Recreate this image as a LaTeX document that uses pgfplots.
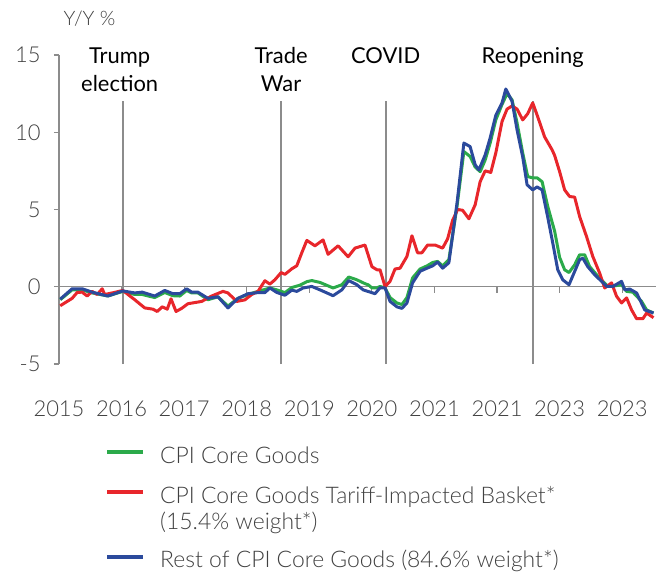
\documentclass[border=0pt]{standalone}
\usepackage{pgfplots}
\pgfplotsset{compat=1.18}
\usepackage{fontspec}
\setmainfont{Lato}
\newfontfamily\lightfont{Lato Light}
\definecolor{cgreen}{HTML}{2BAA4A}
\definecolor{cred}{HTML}{E8262B}
\definecolor{cblue}{HTML}{2B4A9C}
\definecolor{lgray}{HTML}{8C8C8C}
\definecolor{tgray}{HTML}{404040}

\pgfplotstableread{
x y
0.02 -1.23
0.21 -0.75
0.29 -0.37
0.37 -0.35
0.45 -0.6
0.53 -0.3
0.61 -0.5
0.69 -0.13
0.73 -0.5
0.85 -0.4
1.02 -0.24
1.21 -0.84
1.37 -1.37
1.50 -1.45
1.57 -1.6
1.65 -1.3
1.73 -1.45
1.79 -0.78
1.87 -1.6
1.96 -1.4
2.06 -1.1
2.28 -0.95
2.44 -0.6
2.62 -0.3
2.70 -0.4
2.84 -0.95
2.97 -0.85
3.08 -0.5
3.18 -0.3
3.29 0.39
3.37 0.17
3.45 0.45
3.55 0.92
3.61 0.8
3.72 1.16
3.80 1.36
3.88 2.2
3.96 3.0
4.09 2.65
4.22 3.03
4.30 2.1
4.46 2.65
4.62 1.94
4.73 2.5
4.89 2.7
5.00 1.3
5.08 1.1
5.13 1.1
5.21 0.02
5.29 0.35
5.37 1.15
5.45 1.2
5.56 1.96
5.64 3.3
5.73 2.2
5.80 2.2
5.89 2.7
6.01 2.7
6.13 2.5
6.21 3.1
6.29 4.3
6.37 5.0
6.45 4.95
6.55 4.4
6.65 5.3
6.73 6.8
6.81 7.5
6.90 7.4
6.98 8.66
7.08 10.7
7.16 11.5
7.24 11.7
7.32 11.5
7.41 10.8
7.49 11.2
7.57 11.9
7.65 11.0
7.76 9.7
7.88 8.86
7.92 8.5
8.00 7.45
8.08 6.27
8.16 5.84
8.24 5.8
8.32 4.54
8.43 3.25
8.53 1.96
8.64 0.88
8.72 -0.08
8.83 0.25
8.91 -0.62
8.99 -1.05
9.07 -0.72
9.15 -1.5
9.23 -2.07
9.33 -2.07
9.39 -1.7
9.50 -2.0
}\redtab

\pgfplotstableread{
x y
0.02 -0.84
0.21 -0.2
0.37 -0.2
0.53 -0.4
0.78 -0.6
1.02 -0.3
1.21 -0.5
1.33 -0.5
1.53 -0.7
1.69 -0.37
1.82 -0.58
1.93 -0.6
2.04 -0.24
2.12 -0.4
2.22 -0.4
2.38 -0.84
2.54 -0.65
2.70 -1.25
2.86 -0.75
3.02 -0.5
3.18 -0.3
3.37 -0.08
3.48 -0.2
3.61 -0.38
3.72 -0.05
3.85 0.1
3.96 0.33
4.04 0.4
4.17 0.28
4.38 -0.08
4.52 0.13
4.63 0.63
4.76 0.45
4.89 0.2
4.94 0.13
5.00 -0.07
5.08 -0.07
5.13 0.02
5.21 -0.07
5.29 -0.7
5.40 -1.05
5.48 -1.15
5.56 -0.7
5.65 0.57
5.77 1.15
5.88 1.35
5.97 1.57
6.05 1.64
6.13 1.35
6.23 1.75
6.36 5.2
6.47 8.75
6.57 8.43
6.65 7.75
6.73 7.45
6.81 8.2
6.89 9.3
6.98 10.8
7.08 11.8
7.16 12.5
7.24 12.1
7.32 10.6
7.41 8.66
7.49 7.13
7.57 7.05
7.64 7.05
7.72 6.8
7.81 5.2
7.92 3.6
8.00 1.9
8.08 1.1
8.15 0.92
8.24 1.42
8.32 2.07
8.40 2.07
8.48 1.3
8.59 0.78
8.69 0.35
8.77 0.02
8.88 0.06
8.99 0.13
9.07 -0.3
9.17 -0.35
9.31 -0.95
9.39 -1.5
9.50 -1.7
}\greentab

\pgfplotstableread{
x y
0.02 -0.8
0.21 -0.13
0.37 -0.13
0.53 -0.35
0.78 -0.6
1.02 -0.27
1.21 -0.4
1.33 -0.35
1.53 -0.6
1.69 -0.24
1.82 -0.45
1.93 -0.45
2.04 -0.13
2.12 -0.35
2.22 -0.35
2.38 -0.75
2.54 -0.65
2.70 -1.37
2.86 -0.75
3.02 -0.45
3.18 -0.38
3.29 -0.38
3.37 -0.08
3.48 -0.37
3.61 -0.55
3.72 -0.22
3.80 -0.3
3.90 -0.08
4.04 0.02
4.17 -0.2
4.38 -0.58
4.52 -0.2
4.63 0.4
4.76 0.13
4.86 -0.2
5.05 -0.45
5.13 -0.07
5.21 -0.07
5.29 -0.95
5.40 -1.3
5.48 -1.4
5.56 -1.05
5.65 0.25
5.77 1.0
5.88 1.2
5.97 1.35
6.05 1.6
6.13 1.2
6.23 1.55
6.36 5.4
6.47 9.3
6.57 9.07
6.65 7.9
6.71 7.56
6.81 8.53
6.89 9.63
6.98 11.1
7.08 11.9
7.14 12.8
7.24 12.0
7.32 10.15
7.41 8.4
7.48 6.6
7.57 6.27
7.64 6.46
7.72 6.27
7.81 4.5
7.89 2.84
7.97 1.1
8.05 0.45
8.15 0.13
8.24 0.99
8.32 1.75
8.37 1.85
8.45 1.3
8.56 0.78
8.67 0.35
8.75 0.02
8.85 0.02
8.99 0.35
9.04 -0.2
9.12 -0.15
9.23 -0.4
9.36 -1.5
9.50 -1.7
}\bluetab

\begin{document}
\begin{tikzpicture}
\begin{axis}[
  at={(0,0)}, anchor=south west,
  scale only axis, width=597bp, height=309bp,
  xmin=0, xmax=9.54, ymin=-5, ymax=15,
  axis lines=left,
  axis line style={lgray, line width=1.2bp, -},
  x axis line style={draw=none},
  xtick={0,...,9},
  xticklabels={2015,2016,2017,2018,2019,2020,2021,2021,2023,2023},
  x tick style={draw=none},
  ytick={-5,0,5,10,15},
  y tick style={lgray, line width=1.2bp},
  tick align=outside,
  major tick length=5bp,
  tick label style={font=\lightfont\fontsize{22}{26}\selectfont, text=tgray},
  xticklabel style={anchor=base, yshift=-47bp},
  yticklabel style={xshift=-10bp},
  /pgf/number format/assume math mode=true,
  clip=false,
]
% zero line and its ticks
\draw[lgray, line width=1.2bp] (axis cs:0,0) -- (axis cs:9.54,0);
\pgfplotsinvokeforeach{1,2,3,4,5,6,7,8,9}{\draw[lgray, line width=1.2bp] (axis cs:#1,0) -- ([yshift=-6bp]axis cs:#1,0);}
% event lines
\draw[lgray, line width=2bp] (axis cs:1.02,-5) -- (axis cs:1.02,12);
\draw[lgray, line width=2bp] (axis cs:3.55,-5) -- (axis cs:3.55,12);
\draw[lgray, line width=2bp] (axis cs:5.22,-5) -- (axis cs:5.22,12);
\draw[lgray, line width=2bp] (axis cs:7.57,-5) -- (axis cs:7.57,12);
\node[anchor=base, font=\fontsize{22}{26}\selectfont] at (axis cs:0.97,14.45) {Trump};
\node[anchor=base, font=\fontsize{22}{26}\selectfont] at (axis cs:0.97,12.62) {election};
\node[anchor=base, font=\fontsize{22}{26}\selectfont] at (axis cs:3.55,14.45) {Trade};
\node[anchor=base, font=\fontsize{22}{26}\selectfont] at (axis cs:3.55,12.62) {War};
\node[anchor=base, font=\fontsize{22}{26}\selectfont] at (axis cs:5.22,14.45) {COVID};
\node[anchor=base, font=\fontsize{22}{26}\selectfont] at (axis cs:7.57,14.45) {Reopening};
% data
\addplot[cgreen, line width=3bp, line join=round] table[x=x,y=y] {\greentab};
\addplot[cred, line width=3bp, line join=round] table[x=x,y=y] {\redtab};
\addplot[cblue, line width=3bp, line join=round] table[x=x,y=y] {\bluetab};
\end{axis}
% y unit label
\node[anchor=base west, font=\lightfont\fontsize{20}{24}\selectfont, text=tgray] at (1bp,338bp) {Y/Y \%};
% legend
\draw[cgreen, line width=3.5bp] (48bp,-88bp) -- (84bp,-88bp);
\draw[cred, line width=3.5bp] (48bp,-128bp) -- (84bp,-128bp);
\draw[cblue, line width=3.5bp] (48bp,-193bp) -- (84bp,-193bp);
\begin{scope}[every node/.style={anchor=base west, inner sep=0pt, font=\lightfont\fontsize{23}{28}\selectfont, text=tgray}]
\node at (101bp,-99bp) {CPI Core Goods};
\node at (101bp,-139bp) {CPI Core Goods Tariff-Impacted Basket*};
\node at (101bp,-165bp) {(15.4\% weight*)};
\node at (101bp,-203bp) {Rest of CPI Core Goods (84.6\% weight*)};
\end{scope}
\path[use as bounding box] (-59bp,-210bp) rectangle (606bp,364bp);
\end{tikzpicture}
\end{document}
